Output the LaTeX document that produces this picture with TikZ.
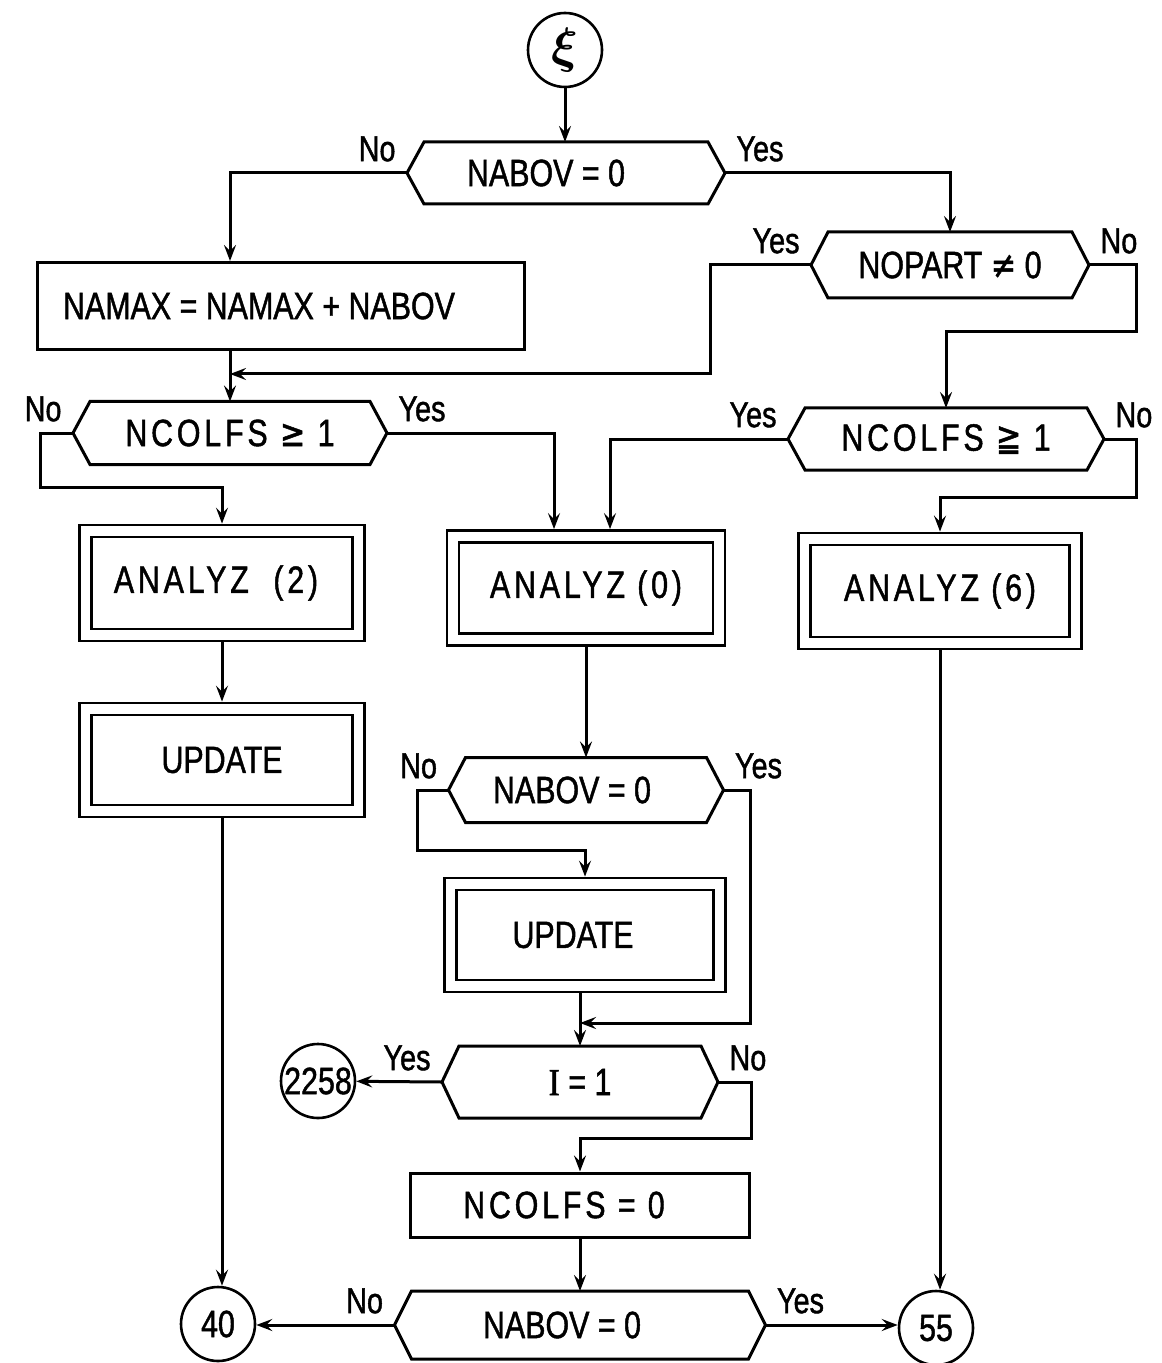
\documentclass[tikz,border=0pt]{standalone}
\usepackage{fontspec}
\setmainfont{Liberation Sans}[FakeStretch=0.8, FakeBold=1.2]
\newfontfamily\widefont{Liberation Sans}[FakeStretch=0.8, FakeBold=1.2, LetterSpace=10]
\newfontfamily\symfont{DejaVu Sans}[FakeStretch=0.8, FakeBold=1.2]
\newfontfamily\typefont{Liberation Serif}[FakeStretch=0.9, FakeBold=1.2]
\usepackage{amsmath}
\usepackage{tikz}
\usetikzlibrary{positioning, arrows.meta, calc}

\begin{document}
\begin{tikzpicture}[
  x=0.5pt, y=-0.5pt,
  line width=1.5pt,
  font=\fontsize{19}{22}\selectfont,
  proc/.style={draw, line width=1.5pt, rectangle, inner sep=2pt},
  dbl/.style={draw, line width=1.3pt, rectangle, double, double distance=4.8pt, outer sep=3.7pt, inner sep=2pt},
  hex/.style={rectangle, inner sep=2pt, outer sep=0pt},
  hexline/.style={draw, line width=1.5pt, line join=miter},
  conn/.style={draw, line width=1.3pt, circle, minimum size=37pt, inner sep=0pt},
  lbl/.style={font=\fontsize{18}{20}\selectfont, inner sep=5pt},
  arr/.style={line width=1.5pt, -{Stealth[length=8pt, width=6pt, inset=3pt]}},
]
  \useasboundingbox (0,0) rectangle (1161,1363);

  % Entry and first tests
  \node[conn] (xi) at (565,50) {\fontsize{30}{30}\selectfont$\boldsymbol{\xi}$};
  \node[hex, minimum width=159pt, minimum height=31pt,
        label={[lbl, anchor=south east]west:No}, label={[lbl, anchor=south west]east:Yes}]
        (nabov) at (566,173) {NABOV = 0\hspace*{20pt}};
  \node[proc, minimum width=243.5pt, minimum height=43.5pt] (namax) at (281,306) {NAMAX = NAMAX + NABOV\hspace*{22pt}};
  \node[hex, minimum width=139pt, minimum height=33pt,
        label={[lbl, anchor=south east]west:Yes}, label={[lbl, anchor=south west]east:No}]
        (nopart) at (950,265) {NOPART {\symfont ≠} 0};
  \node[hex, minimum width=157pt, minimum height=31.5pt,
        label={[lbl, anchor=south east]west:No}, label={[lbl, anchor=south west]east:Yes}]
        (ncolL) at (230,433) {\widefont NCOLFS {\symfont ≥} 1};
  \node[hex, minimum width=158pt, minimum height=31pt,
        label={[lbl, anchor=south east]west:Yes}, label={[lbl, anchor=south west]east:No}]
        (ncolR) at (946,439) {\widefont NCOLFS {\symfont ≧} 1};

  % Analysis calls
  \node[dbl, minimum width=136.5pt, minimum height=52pt] (anlz2) at (222,583) {\widefont ANALYZ \ (2)\hspace*{6pt}};
  \node[dbl, minimum width=136.5pt, minimum height=51pt] (updL) at (222,760) {UPDATE};
  \node[dbl, minimum width=133pt, minimum height=51.5pt] (anlz0) at (586,588) {\widefont ANALYZ (0)};
  \node[dbl, minimum width=135.5pt, minimum height=52pt] (anlz6) at (940,591) {\widefont ANALYZ (6)};

  % Middle column
  \node[hex, minimum width=137.5pt, minimum height=32.5pt,
        label={[lbl, anchor=south east]west:No}, label={[lbl, anchor=south west]east:Yes}]
        (nabovM) at (586,790) {NABOV = 0\hspace*{14pt}};
  \node[dbl, minimum width=134.5pt, minimum height=51pt] (updM) at (585,935) {UPDATE\hspace*{12pt}};
  \node[hex, minimum width=138pt, minimum height=36pt,
        label={[lbl, anchor=south east]west:Yes}, label={[lbl, anchor=south west]east:No}]
        (ione) at (580,1082) {{\typefont I} = 1};
  \node[proc, minimum width=169.5pt, minimum height=32pt] (ncolz) at (580,1205) {\widefont NCOLFS = 0\hspace*{16pt}};
  \node[hex, minimum width=185.5pt, minimum height=34pt,
        label={[lbl, anchor=south east]west:No}, label={[lbl, anchor=south west]east:Yes}]
        (nabovB) at (580,1325) {NABOV = 0\hspace*{18pt}};

  % Exits
  \node[conn] (c2258) at (318,1081) {2258};
  \node[conn] (c40) at (218,1324) {40};
  \node[conn] (c55) at (936,1328) {55};

  % Hexagon outlines
  \foreach \q in {nabov, nopart, ncolL, ncolR, nabovM, ione, nabovB}
    \draw[hexline] (\q.west) -- ([xshift=8.5pt]\q.north west) -- ([xshift=-8.5pt]\q.north east)
          -- (\q.east) -- ([xshift=-8.5pt]\q.south east) -- ([xshift=8.5pt]\q.south west) -- cycle;

  % Join points
  \coordinate (join1) at (ncolL |- 0,374);
  \coordinate (join2) at (ione |- 0,1023);

  % Arrows
  \draw[arr] (xi.south) -- (xi.south |- nabov.north);
  \draw[arr] (nabov.west) -| (namax.north -| ncolL);
  \draw[arr] (nabov.east) -| (nopart.north);
  \draw[arr] (namax.south -| ncolL) -- (ncolL.north);
  \draw[arr] (nopart.west) -- ++(-101,0) |- (join1);
  \draw[arr] (nopart.east) -- ++(47,0) -- ++(0,67) -| (ncolR.north);
  \draw[arr] (ncolL.west) -- ++(-33,0) -- ++(0,54) -| (anlz2.north);
  \draw[arr] (ncolL.east) -| ([xshift=-16pt]anlz0.north);
  \draw[arr] (ncolR.west) -| ([xshift=12pt]anlz0.north);
  \draw[arr] (ncolR.east) -- ++(32,0) -- ++(0,58) -| (anlz6.north);
  \draw[arr] (anlz2) -- (updL);
  \draw[arr] (updL.south) -- (updL.south |- c40.north);
  \draw[arr] (anlz0) -- (nabovM);
  \draw[arr] (nabovM.west) -- ++(-31,0) -- ++(0,60) -| (updM.north);
  \draw[arr] (nabovM.east) -- ++(27,0) |- (join2);
  \draw[arr] (ione.north |- updM.south) -- (ione.north);
  \draw[arr] (ione.west) -- (c2258);
  \draw[arr] (ione.east) -- ++(33,0) -- ++(0,56) -| (ncolz.north);
  \draw[arr] (ncolz) -- (nabovB);
  \draw[arr] (nabovB.west) -- (nabovB.west -| c40.east);
  \draw[arr] (nabovB.east) -- (nabovB.east -| c55.west);
  \draw[arr] (anlz6.south) -- (anlz6.south |- c55.north);
\end{tikzpicture}
\end{document}
